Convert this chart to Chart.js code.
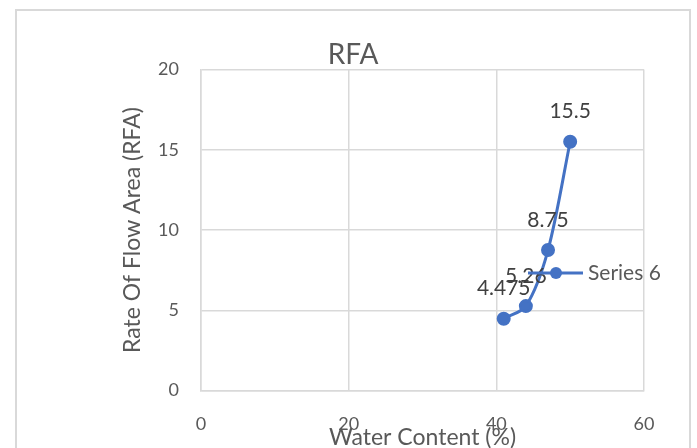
<!DOCTYPE html>
<html>
<head>
<meta charset="utf-8">
<script src="https://cdn.jsdelivr.net/npm/chart.js@4/dist/chart.umd.min.js"></script>
<style>
  html, body { margin: 0; padding: 0; background: #fff; }
  #wrap { width: 697px; height: 448px; position: relative; }
</style>
</head>
<body>
<div id="wrap"><canvas id="myChart" width="697" height="448"></canvas></div>
<script>
"use strict";
const waterContent = [41, 44, 47, 50];
const rfaValues = [4.475, 5.26, 8.75, 15.5];
const seriesName = "Series 6";
const chartTitle = "RFA";
const xTitle = "Water Content (%)";
const yTitle = "Rate Of Flow Area (RFA)";

const blue = "#4472C4";
const gridColor = "#d9d9d9";
const FONT = "Lato, 'Open Sans', sans-serif";

// titles, point labels, legend and outer border (Excel-style)
const excelExtras = {
  id: "excelExtras",
  beforeDraw(chart) {
    const c = chart.ctx;
    c.save();
    c.strokeStyle = gridColor;
    c.lineWidth = 2;
    c.beginPath();
    c.moveTo(16, 460);
    c.lineTo(16, 10);
    c.lineTo(690, 10);
    c.lineTo(690, 460);
    c.stroke();
    c.restore();
  },
  afterDatasetsDraw(chart) {
    const c = chart.ctx;
    const area = chart.chartArea;
    c.save();
    c.textAlign = "center";
    c.textBaseline = "middle";

    c.fillStyle = "#595959";
    c.font = "28px " + FONT;
    c.fillText(chartTitle, 353, 55);

    c.font = "23px " + FONT;
    c.fillText(xTitle, (area.left + area.right) / 2, 438);
    c.save();
    c.translate(133, (area.top + area.bottom) / 2);
    c.rotate(-Math.PI / 2);
    c.fillText(yTitle, 0, 0);
    c.restore();

    // data labels
    c.fillStyle = "#404040";
    c.font = "21px " + FONT;
    const meta = chart.getDatasetMeta(0);
    meta.data.forEach((pt, i) => {
      c.fillText(String(rfaValues[i]), pt.x, pt.y - 30);
    });

    // legend inside the plot
    const ly = 273;
    c.strokeStyle = blue;
    c.lineWidth = 3;
    c.beginPath();
    c.moveTo(528, ly);
    c.lineTo(583, ly);
    c.stroke();
    c.fillStyle = blue;
    c.beginPath();
    c.arc(556, ly, 6, 0, Math.PI * 2);
    c.fill();
    c.fillStyle = "#595959";
    c.textAlign = "left";
    c.fillText(seriesName, 588, ly);
    c.restore();
  }
};

const ctx = document.getElementById("myChart").getContext("2d");
const myChart = new Chart(ctx, {
  type: "scatter",
  data: {
    datasets: [
      {
        label: seriesName,
        data: waterContent.map((x, i) => ({ x: x, y: rfaValues[i] })),
        showLine: true,
        tension: 0.3,
        borderColor: blue,
        backgroundColor: blue,
        borderWidth: 3,
        pointRadius: 5.5,
        pointHoverRadius: 5.5,
      },
    ],
  },
  options: {
    responsive: false,
    animation: false,
    events: [],
    layout: {
      padding: { left: 141, right: 53, top: 69.5, bottom: 0 },
    },
    plugins: {
      legend: { display: false },
      title: { display: false },
      tooltip: { enabled: false },
    },
    scales: {
      x: {
        type: "linear",
        min: 0,
        max: 60,
        afterFit(s) { s.height = 57.5; },
        ticks: {
          stepSize: 20,
          padding: 23,
          color: "#595959",
          font: { family: FONT, size: 18 },
          maxRotation: 0,
        },
        grid: { color: gridColor, lineWidth: 1.5, drawTicks: false },
        border: { color: gridColor, width: 1.5 },
      },
      y: {
        min: 0,
        max: 20,
        afterFit(s) { s.width = 60; },
        ticks: {
          stepSize: 5,
          padding: 22,
          color: "#595959",
          font: { family: FONT, size: 18 },
        },
        grid: { color: gridColor, lineWidth: 1.5, drawTicks: false },
        border: { color: gridColor, width: 1.5 },
      },
    },
  },
  plugins: [excelExtras],
});
</script>
</body>
</html>
